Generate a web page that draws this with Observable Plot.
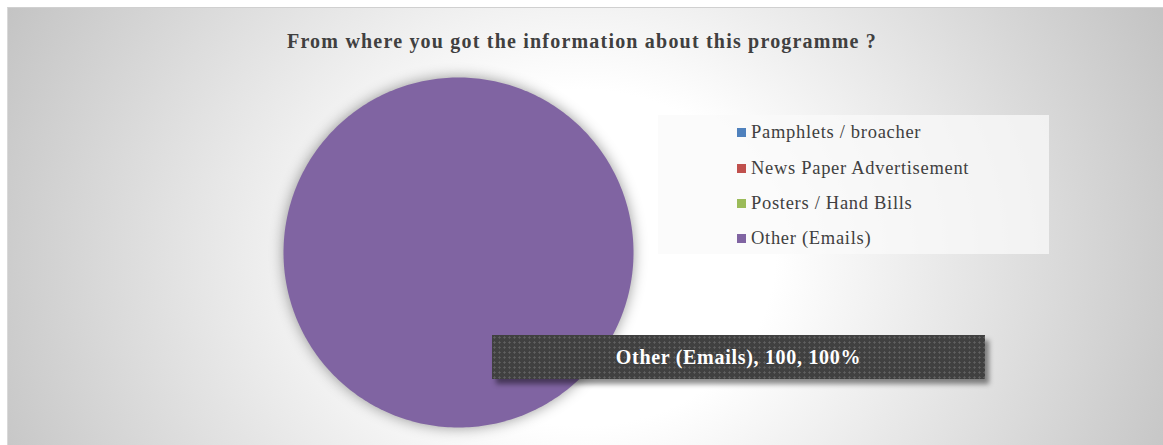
<!DOCTYPE html>
<html>
<head>
<meta charset="utf-8">
<script src="https://cdn.jsdelivr.net/npm/d3@7"></script>
<script src="https://cdn.jsdelivr.net/npm/@observablehq/plot@0.6"></script>
<style>
  html, body { margin: 0; padding: 0; background: #fff; }
  #wrap {
    position: absolute; left: 7px; top: 7px; width: 1156px; height: 438px;
    border-top: 1px solid #d0d0d0; border-left: 1px solid #d9d9d9;
    background: radial-gradient(ellipse 640px 560px at 575px 250px, #ffffff 0%, #ffffff 30%, #c4c4c4 100%);
    overflow: hidden;
    font-family: "Liberation Serif", "DejaVu Serif", serif;
  }
  #title {
    position: absolute; left: 0; width: 1148px; top: 22px; text-align: center;
    font-weight: bold; font-size: 20px; letter-spacing: 1.2px; color: #404040;
  }
  #plot { position: absolute; left: -8px; top: -8px; }
  #plot g[aria-label="line"] path { filter: drop-shadow(0 0 7px rgba(0,0,0,0.4)); }
  #legend {
    position: absolute; left: 650px; top: 107px; width: 391px; height: 139px;
    background: rgba(250,250,250,0.75);
  }
  .item { position: absolute; left: 79px; font-size: 18.5px; letter-spacing: 0.7px; color: #404040; white-space: nowrap; line-height: 20px; }
  .sw { display: inline-block; width: 9px; height: 9px; margin-right: 5px; vertical-align: 1px; }
  #label {
    position: absolute; left: 484px; top: 327px; width: 493px; height: 44px;
    background-color: #404040;
    background-image: radial-gradient(circle, rgba(110,110,110,0.7) 0.9px, transparent 1.3px);
    background-size: 5px 5px;
    box-shadow: 4px 5px 5px rgba(0,0,0,0.45);
    color: #fff; font-weight: bold; font-size: 20px; letter-spacing: 0.7px; text-align: center; line-height: 44px;
  }
</style>
</head>
<body>
<div id="wrap">
  <div id="plot"></div>
  <div id="title"></div>
  <div id="legend"></div>
  <div id="label"></div>
</div>
<script>
const title = "From where you got the information about this programme ?";
const categories = ["Pamphlets / broacher", "News Paper Advertisement", "Posters / Hand Bills", "Other (Emails)"];
const values = [0, 0, 0, 100];
const colors = ["#4f81bd", "#c0504d", "#9bbb59", "#8064a2"];

document.getElementById("title").textContent = title;

const data = categories.map((c, i) => ({category: c, value: values[i]}));
const total = d3.sum(values);
const arcs = d3.pie().value(d => d.value).sort(null)(data);

// outline points of each slice, in unit-circle coordinates
const pts = [];
for (const a of arcs) {
  const span = a.endAngle - a.startAngle;
  if (span <= 0) continue;
  const n = Math.max(2, Math.ceil(span / (Math.PI / 180)));
  if (span < 2 * Math.PI - 1e-9) pts.push({category: a.data.category, x: 0, y: 0});
  for (let k = 0; k <= n; k++) {
    const t = a.startAngle + span * k / n;
    pts.push({category: a.data.category, x: Math.sin(t), y: Math.cos(t)});
  }
}

const plot = Plot.plot({
  width: 1163, height: 445,
  style: {background: "transparent", overflow: "visible"},
  x: {domain: [-1, 1], range: [283, 633], axis: null},
  y: {domain: [-1, 1], range: [427, 77], axis: null},
  color: {domain: categories, range: colors},
  marks: [
    Plot.line(pts, {x: "x", y: "y", z: "category", fill: "category", stroke: "none", curve: "linear"})
  ]
});
document.getElementById("plot").appendChild(plot);

const legend = document.getElementById("legend");
const tops = [7, 43, 78, 113];
categories.forEach((c, i) => {
  const d = document.createElement("div");
  d.className = "item";
  d.style.top = tops[i] + "px";
  const s = document.createElement("span");
  s.className = "sw";
  s.style.background = colors[i];
  d.appendChild(s);
  d.appendChild(document.createTextNode(c));
  legend.appendChild(d);
});

const big = arcs.reduce((m, a) => a.value > m.value ? a : m, arcs[0]);
document.getElementById("label").textContent =
  `${big.data.category}, ${big.value}, ${Math.round(big.value / total * 100)}%`;
</script>
</body>
</html>
